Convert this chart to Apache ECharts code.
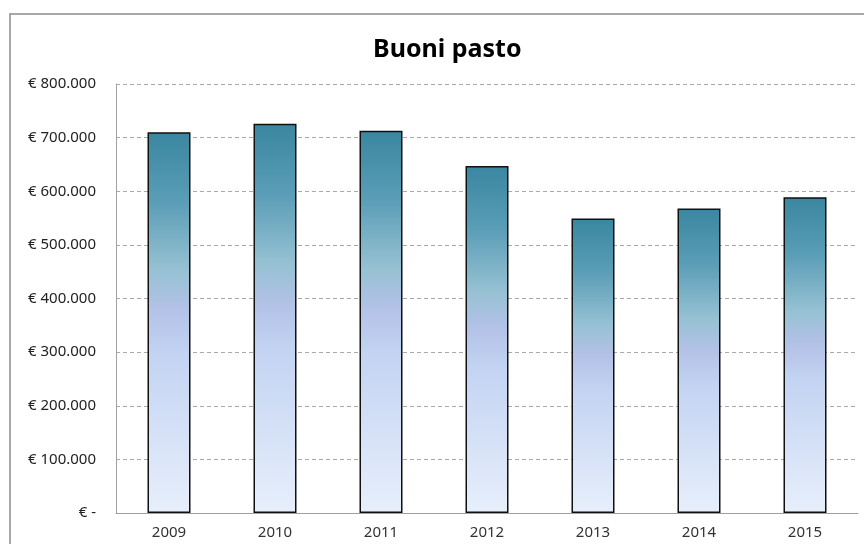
<!DOCTYPE html>
<html><head><meta charset="utf-8">
<script src="https://cdn.jsdelivr.net/npm/echarts@6/dist/echarts.min.js"></script>
<style>html,body{margin:0;padding:0;background:#fff}#c{width:864px;height:544px}</style>
</head><body><div id="c"></div>
<script>
var categories = ['2009','2010','2011','2012','2013','2014','2015'];
var values = [710000, 726000, 713000, 647000, 549000, 568000, 589000];
var titleText = 'Buoni pasto';

var chart = echarts.init(document.getElementById('c'));
function fmt(v){
  if (v === 0) return '€ -';
  return '€ ' + String(v).replace(/\B(?=(\d{3})+(?!\d))/g, '.');
}
var grad = new echarts.graphic.LinearGradient(0,0,0,1,[
  {offset:0, color:'#3a86a0'},
  {offset:0.18, color:'#5a9db6'},
  {offset:0.36, color:'#96c1d3'},
  {offset:0.46, color:'#b2c1e6'},
  {offset:0.58, color:'#c3d3f2'},
  {offset:1, color:'#e7effb'}
]);
chart.setOption({
  animation:false,
  graphic:[{type:'rect', shape:{x:10,y:14,width:900,height:600}, style:{fill:'none', stroke:'#8c8c8c', lineWidth:1.5}, silent:true}],
  title:{text:titleText, left:368, top:32, textStyle:{fontFamily:'Noto Sans', fontWeight:'bold', fontSize:25, color:'#000'}},
  grid:{left:116, right:6, top:84, bottom:31},
  xAxis:{type:'category', data:categories,
    axisLine:{lineStyle:{color:'#a0a0a0', width:1}}, axisTick:{show:false},
    axisLabel:{color:'#333', fontFamily:'Noto Sans', fontSize:15, margin:12}},
  yAxis:{type:'value', min:0, max:800000, interval:100000,
    axisLine:{show:true, lineStyle:{color:'#a0a0a0', width:1}}, axisTick:{show:false},
    splitLine:{lineStyle:{color:'#aaaaaa', type:[4,3]}},
    axisLabel:{formatter:fmt, color:'#222', fontFamily:'Noto Sans', fontSize:15, margin:20}},
  series:[{type:'bar', data:values, barWidth:43,
    itemStyle:{color:grad, borderColor:'#111', borderWidth:1.5}}]
});
</script></body></html>
